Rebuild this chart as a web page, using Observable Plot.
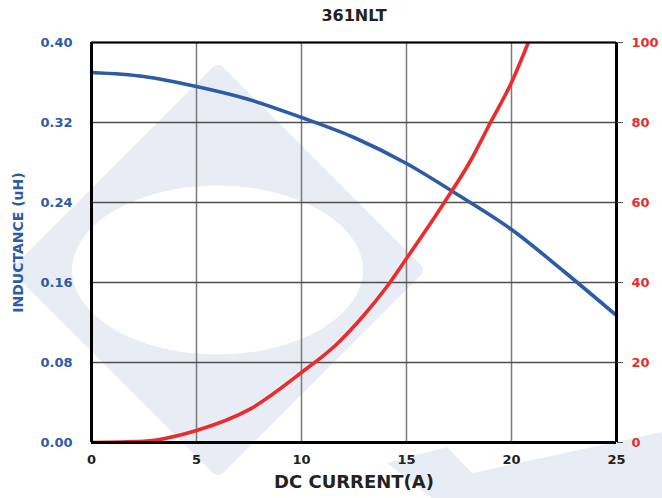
<!DOCTYPE html>
<html>
<head>
<meta charset="utf-8">
<script src="https://cdn.jsdelivr.net/npm/d3@7"></script>
<script src="https://cdn.jsdelivr.net/npm/@observablehq/plot@0.6"></script>
<style>
  body { margin: 0; background: #fff; }
  #wrap { position: relative; width: 662px; height: 498px; overflow: hidden; }
  #wm, #chart { position: absolute; left: 0; top: 0; }
</style>
</head>
<body>
<div id="wrap">
  <svg id="wm" width="662" height="498" aria-hidden="true">
    <path fill="#e8edf5" stroke="#e8edf5" stroke-width="14" stroke-linejoin="round" fill-rule="evenodd"
      d="M218,72 L416,270 L218,468 L20,270 Z M65,270 A152.5,91.5 0 1,0 370,270 A152.5,91.5 0 1,0 65,270 Z"/>
    <path fill="#e8edf5" d="M387,463 L447,447 L472,473 L662,432 L662,498 L432,498 Z"/>
  </svg>
  <div id="chart"></div>
</div>
<script>
// ---- data ----
const title = "361NLT";
const xLabel = "DC CURRENT(A)";
const yLabel = "INDUCTANCE (uH)";

const xTicks = [0, 5, 10, 15, 20, 25];
const leftTicks = [0, 0.08, 0.16, 0.24, 0.32, 0.40];
const rightTicks = [0, 20, 40, 60, 80, 100];

// inductance vs DC current
const lCurrent    = [0, 2.5, 5, 7.5, 10, 12.5, 15, 17.5, 20, 22.5, 25];
const inductance  = [0.370, 0.366, 0.356, 0.343, 0.325, 0.305, 0.279, 0.247, 0.213, 0.171, 0.127];

// temperature rise vs DC current (right axis, 0-100)
const tCurrent = [0, 2.5, 5, 7.5, 10, 11.7, 13, 14, 15, 16.8, 18, 19, 20, 20.8];
const tempRise = [0, 0.3, 3.0, 8.2, 17.5, 24.7, 32, 38.5, 46, 60, 70, 80, 90, 100];

// ---- build ----
const blue = "#2c5ba7";
const red = "#ec2b2b";
const rightMax = 100, leftMax = 0.40;
const toLeft = v => v * leftMax / rightMax;

const lData = lCurrent.map((c, i) => ({c, v: inductance[i]}));
const tData = tCurrent.map((c, i) => ({c, v: toLeft(tempRise[i])}));

const chart = Plot.plot({
  width: 662,
  height: 498,
  marginLeft: 91,
  marginRight: 46,
  marginTop: 42,
  marginBottom: 56,
  x: {domain: [0, 25]},
  y: {domain: [0, leftMax]},
  style: {
    background: "transparent",
    fontFamily: "DejaVu Sans",
    fontWeight: "bold",
    fontSize: "13px",
    overflow: "visible"
  },
  marks: [
    Plot.gridX({ticks: xTicks, stroke: "#7a7a7a", strokeOpacity: 1, strokeWidth: 1.5}),
    Plot.gridY({ticks: leftTicks, stroke: "#4f4f4f", strokeOpacity: 1, strokeWidth: 1.5}),
    Plot.line(lData, {x: "c", y: "v", stroke: blue, strokeWidth: 3.6, curve: "monotone-x"}),
    Plot.line(tData, {x: "c", y: "v", stroke: red, strokeWidth: 3.6, curve: "monotone-x", clip: true}),
    Plot.ruleX([0], {stroke: "#000", strokeWidth: 3}),
    Plot.ruleX([25], {stroke: "#000", strokeWidth: 3}),
    Plot.ruleY([0], {stroke: "#000", strokeWidth: 3}),
    Plot.ruleY([leftMax], {stroke: "#000", strokeWidth: 2}),
    Plot.axisX({ticks: xTicks, tickSize: 0, tickPadding: 12, label: null, color: "#222", fill: "#222"}),
    Plot.axisY({ticks: leftTicks, tickSize: 0, tickPadding: 19, tickFormat: d => d.toFixed(2), label: null, color: blue, fill: blue}),
    Plot.axisY({anchor: "right", ticks: rightTicks.map(toLeft), tickSize: 6, tickFormat: () => "", label: null, stroke: "#555", color: "#555"}),
    Plot.axisY({anchor: "right", ticks: rightTicks.map(toLeft), tickSize: 0, tickPadding: 15,
      tickFormat: d => String(Math.round(d * rightMax / leftMax)), label: null, color: red, fill: red}),
    Plot.text([title], {frameAnchor: "top", dy: -27, fontSize: 16, fontWeight: "bold", fill: "#222", lineAnchor: "middle"}),
    Plot.text([xLabel], {frameAnchor: "bottom", dy: 39.5, fontSize: 18, fontWeight: "bold", fill: "#222", lineAnchor: "middle"}),
    Plot.text([yLabel], {frameAnchor: "left", dx: -73, rotate: -90, textAnchor: "middle", fontSize: 14, fontWeight: "bold", fill: blue, lineAnchor: "middle"})
  ]
});
document.getElementById("chart").appendChild(chart);
</script>
</body>
</html>
